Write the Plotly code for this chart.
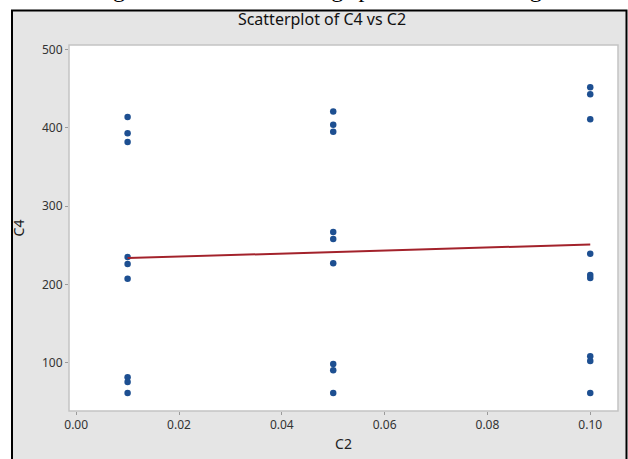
import numpy as np
import plotly.graph_objects as go

# Data
c2 = [0.01]*9 + [0.05]*9 + [0.10]*9
c4 = [414, 393, 382, 235, 226, 207, 81, 75, 61,
      421, 404, 395, 267, 258, 227, 98, 90, 61,
      452, 443, 411, 239, 212, 208, 108, 102, 61]
x_ticks = [0.00, 0.02, 0.04, 0.06, 0.08, 0.10]
y_ticks = [100, 200, 300, 400, 500]

slope, intercept = np.polyfit(c2, c4, 1)
fit_x = [min(c2), max(c2)]
fit_y = [intercept + slope * v for v in fit_x]

W, H = 628, 459
L, R, T, B = 69, 10, 45, 42
PW, PH = W - L - R, H - T - B

fig = go.Figure()
fig.add_trace(go.Scatter(x=c2, y=c4, mode="markers",
                         marker=dict(color="#1d4f91", size=6.5, symbol="circle"),
                         hoverinfo="skip", showlegend=False))
fig.add_trace(go.Scatter(x=fit_x, y=fit_y, mode="lines",
                         line=dict(color="#a3222b", width=2),
                         hoverinfo="skip", showlegend=False))

# gray frame with black border (bottom runs past the image edge)
fig.add_shape(type="rect", xref="paper", yref="paper",
              x0=-(L - 12) / PW, x1=1 + (R - 1.5) / PW,
              y0=-(B + 20) / PH, y1=1 + (T - 10) / PH,
              fillcolor="#e5e5e5", line=dict(color="black", width=2), layer="below")
# white plot area
fig.add_shape(type="rect", xref="paper", yref="paper", x0=0, x1=1, y0=0, y1=1,
              fillcolor="white", line=dict(color="#c4c4c4", width=1.5), layer="below")

fig.update_layout(
    width=W, height=H,
    margin=dict(l=L, r=R, t=T, b=B),
    paper_bgcolor="white", plot_bgcolor="rgba(0,0,0,0)",
    title=dict(text="Scatterplot of C4 vs C2", x=322 / W, xanchor="center",
               y=1 - 19 / H, yanchor="middle", yref="container",
               font=dict(family="Noto Sans", size=16, color="#111111")),
    font=dict(family="Noto Sans", size=12, color="#333333"),
    xaxis=dict(range=[-0.0014, 0.1054], tickvals=x_ticks, tickformat=".2f",
               showgrid=False, zeroline=False, ticks="outside", ticklen=3,
               tickcolor="#9a9a9a", showline=False,
               title=dict(text="C2", font=dict(size=14, color="#222222"), standoff=6)),
    yaxis=dict(range=[38, 506], tickvals=y_ticks,
               showgrid=False, zeroline=False, ticks="outside", ticklen=3,
               tickcolor="#9a9a9a", showline=False,
               title=dict(text="C4", font=dict(size=14, color="#222222"), standoff=14)),
)

# caption above the frame, mostly cut off at the top of the image
fig.add_annotation(text="Figure 4: Effect of cutting speed on the cutting force",
                   xref="paper", yref="paper", x=(345 - L) / PW, xanchor="center",
                   y=1 + (T - 3) / PH, yanchor="bottom", showarrow=False,
                   font=dict(family="Liberation Serif", size=24, color="black"))

fig.write_html("out.html")
